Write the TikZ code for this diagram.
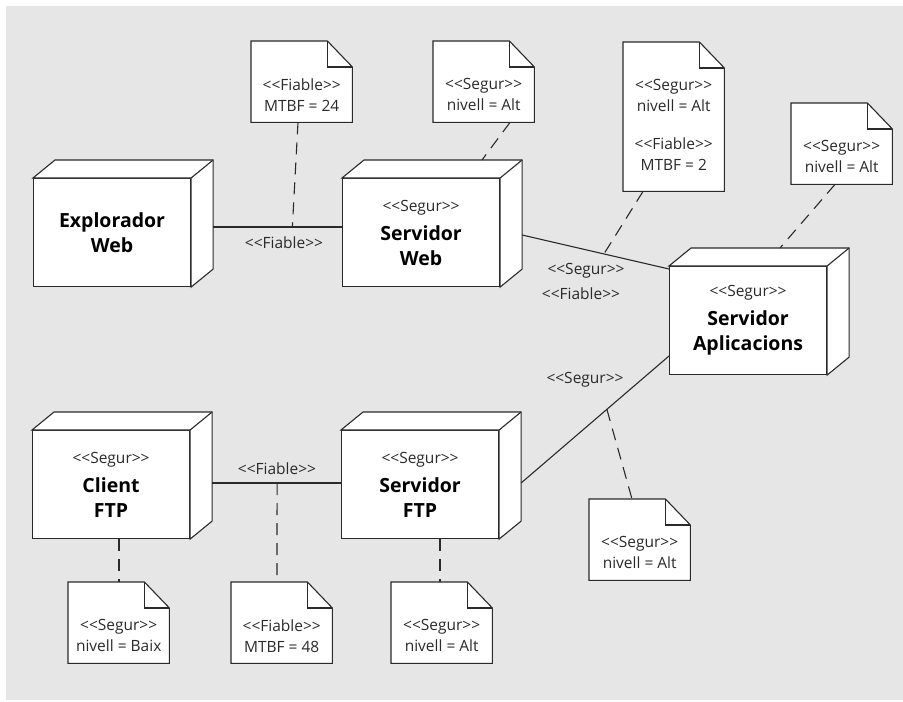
\documentclass[tikz,border=0pt]{standalone}
\usepackage{fontspec}
\setmainfont{Open Sans}
\usetikzlibrary{calc}
\definecolor{bg}{HTML}{E6E6E6}
\definecolor{ink}{HTML}{2A2A2A}
\newcommand\stereo[1]{<\kern0pt<#1>\kern0pt>}
\tikzset{
  ln/.style={draw=ink, line width=1.1pt},
  dsh/.style={draw=ink, line width=1.1pt, dash pattern=on 12pt off 8pt},
  front/.style={draw=ink, line width=1.1pt, fill=white, minimum width=157pt, minimum height=108pt, anchor=north west, inner sep=0pt, align=center, text=black, font=\fontsize{19.5}{25}\selectfont\bfseries},
  notebody/.style={minimum width=101pt, anchor=north west, inner sep=0pt},
  notetxt/.style={align=center, text=ink, font=\fontsize{15.5}{21}\selectfont, inner sep=0pt},
  lbl/.style={text=ink, font=\fontsize{15.5}{21}\selectfont, inner sep=0pt},
}
\newcommand\stsmall[1]{{\fontsize{15.5}{21}\selectfont\mdseries\color{ink}\stereo{#1}}}
\newcommand\depthbox[4]{%
  \node[front] (#1) at (#2,#3) {#4};
  \filldraw[ln, fill=white, line join=miter] (#1.north west) -- ++(22,-18) -- ($(#1.north east)+(22,-18)$) -- ($(#1.south east)+(22,-18)$) -- (#1.south east) -- (#1.north east) -- cycle;
  \draw[ln] (#1.north east) -- ++(22,-18);
}
\newcommand\notebox[6]{% name, x, y, height, text offset, text
  \node[notebody, minimum height=#4pt] (#1) at (#2,#3) {};
  \filldraw[ln, fill=white, line join=miter] (#1.north west) -- ($(#1.north east)+(-25,0)$) -- ($(#1.north east)+(0,26)$) -- (#1.south east) -- (#1.south west) -- cycle;
  \draw[ln, line join=miter] ($(#1.north east)+(-25,0)$) -- ++(0,26) -- ($(#1.north east)+(0,26)$);
  \node[notetxt] (#1t) at ($(#1.center)+(0,#5)$) {#6};
}
\begin{document}
\begin{tikzpicture}[x=1pt, y=-1pt]
\useasboundingbox (0,0) rectangle (903,702);
\fill[bg] (6,6) rectangle (903,700);

% nodes
\depthbox{ew}{33}{178}{Explorador\\Web}
\depthbox{sw}{342}{178}{\stsmall{Segur}\\[4pt]Servidor\\Web}
\depthbox{sa}{669}{266}{\stsmall{Segur}\\[4pt]Servidor\\Aplicacions}
\depthbox{cf}{32}{430}{\stsmall{Segur}\\[4pt]Client\\FTP}
\depthbox{sf}{341}{430}{\stsmall{Segur}\\[4pt]Servidor\\FTP}

% notes
\notebox{n1}{251}{41}{81}{13}{\stereo{Fiable}\\MTBF = 24}
\notebox{n2}{433}{41}{81}{13}{\stereo{Segur}\\nivell = Alt}
\notebox{n3}{623}{42}{149}{8}{\stereo{Segur}\\nivell = Alt\\[17pt]\stereo{Fiable}\\MTBF = 2}
\notebox{n4}{791}{103}{81}{13}{\stereo{Segur}\\nivell = Alt}
\notebox{n5}{589}{499}{81}{13}{\stereo{Segur}\\nivell = Alt}
\notebox{n6}{68}{582}{81}{13}{\stereo{Segur}\\nivell = Baix}
\notebox{n7}{231}{582}{81}{13}{\stereo{Fiable}\\MTBF = 48}
\notebox{n8}{391}{582}{81}{13}{\stereo{Segur}\\nivell = Alt}

% connector end points
\coordinate (ewR) at ($(ew.north east)+(22,49)$);
\coordinate (swL) at (ewR -| sw.west);
\coordinate (swR) at ($(sw.north east)+(22,57)$);
\coordinate (saL1) at ($(sa.north west)+(0,3)$);
\coordinate (saL2) at ($(sa.north west)+(0,90)$);
\coordinate (sfR) at ($(sf.north east)+(22,53)$);
\coordinate (cfR) at ($(cf.north east)+(22,53)$);
\coordinate (sfL) at (cfR -| sf.west);

% solid connectors
\draw[ln] (ewR) -- coordinate[pos=0.615] (m1) (swL);
\draw[ln] (swR) -- coordinate[pos=0.557] (m2) (saL1);
\draw[ln] (saL2) -- coordinate[pos=0.42] (m3) (sfR);
\draw[ln] (cfR) -- coordinate[pos=0.504] (m4) (sfL);

% labels
\node[lbl] (l1) at (284,243) {\stereo{Fiable}};
\node[lbl] (l2) at (586,271) {\stereo{Segur}};
\node[lbl] (l3) at (581,294) {\stereo{Fiable}};
\node[lbl] (l4) at (585,380) {\stereo{Segur}};
\node[lbl] (l5) at (277,469) {\stereo{Fiable}};

% dashed note links
\draw[dsh] ($(n1.south west)+(47,0)$) -- (m1);
\draw[dsh] ($(n2.south west)+(77,0)$) -- ($(sw.north west)+(140,-18)$);
\draw[dsh] ($(n3.south west)+(20,0)$) -- (m2);
\draw[dsh] ($(n4.south west)+(44,0)$) -- ($(sa.north west)+(111,-18)$);
\draw[dsh] (m3) -- ($(n5.north west)+(43,0)$);
\draw[dsh] ($(cf.south west)+(87,0)$) -- ($(n6.north west)+(51,0)$);
\draw[dsh] (m4) -- ($(n7.north west)+(46,0)$);
\draw[dsh] ($(sf.south west)+(99,0)$) -- ($(n8.north west)+(49,0)$);
\end{tikzpicture}
\end{document}
